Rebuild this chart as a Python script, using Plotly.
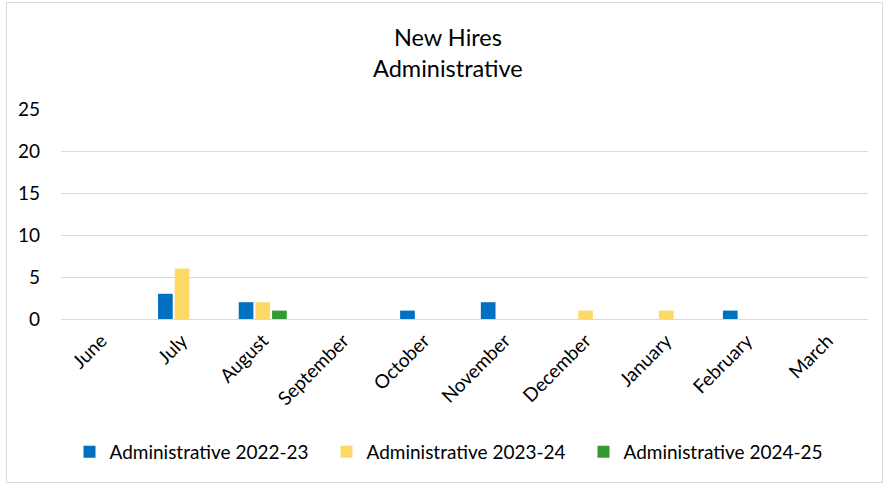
import plotly.graph_objects as go

months = ["June", "July", "August", "September", "October", "November",
          "December", "January", "February", "March"]
admin_2022_23 = [0, 3, 2, 0, 1, 2, 0, 0, 1, 0]
admin_2023_24 = [0, 6, 2, 0, 0, 0, 1, 1, 0, 0]
admin_2024_25 = [0, 0, 1, 0, 0, 0, 0, 0, 0, 0]
series_names = ["Administrative 2022-23", "Administrative 2023-24", "Administrative 2024-25"]
colors = ["#0070C0", "#FFD966", "#339933"]
title_lines = ["New Hires", "Administrative"]

FONT = "Lato, Calibri, Arial, sans-serif"

fig = go.Figure()
for name, vals, c in zip(series_names, [admin_2022_23, admin_2023_24, admin_2024_25], colors):
    fig.add_trace(go.Bar(x=months, y=vals, name=name, marker=dict(color=c, line=dict(width=0))))

W, H = 888, 485
L, R, T, B = 61, 20, 109, 166
pw, ph = W - L - R, H - T - B

def px_x(x):
    return (x - L) / pw

def px_y(y):
    return ((H - y) - B) / ph

annotations = []
for line, ypix in zip(title_lines, [37, 68]):
    annotations.append(dict(text=line, x=px_x(448), y=px_y(ypix), xref="paper", yref="paper",
                            xanchor="center", yanchor="middle", showarrow=False,
                            font=dict(family=FONT, size=23.5, color="#000000")))

fig.update_layout(
    width=W, height=H,
    margin=dict(l=L, r=R, t=T, b=B),
    paper_bgcolor="white", plot_bgcolor="white",
    font=dict(family=FONT, size=19, color="#000000"),
    barmode="group", bargap=0.38, bargroupgap=0.12,
    annotations=annotations,
    xaxis=dict(tickangle=-45, showgrid=False, showline=False, ticks="",
               tickfont=dict(size=19), zeroline=False, ticklabelstandoff=6),
    yaxis=dict(range=[0, 25], dtick=5, showgrid=True, gridcolor="#D9D9D9", gridwidth=1.3,
               zeroline=True, zerolinecolor="#D9D9D9", zerolinewidth=1.3,
               showline=False, ticks="", ticklabelstandoff=20, tickfont=dict(size=19)),
    legend=dict(orientation="h", x=px_x(455), xanchor="center", y=px_y(452), yanchor="middle",
                font=dict(size=19), itemwidth=30, tracegroupgap=0,
                entrywidth=212, entrywidthmode="pixels", bgcolor="rgba(0,0,0,0)"),
    shapes=[dict(type="rect", xref="paper", yref="paper",
                 x0=px_x(6.5), x1=px_x(882.5), y0=px_y(482.5), y1=px_y(2.5),
                 line=dict(color="#D9D9D9", width=1), layer="below")],
)

fig.write_html("out.html")
